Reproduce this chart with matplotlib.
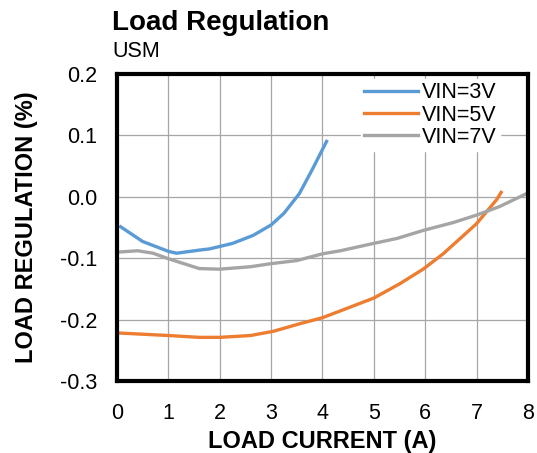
import matplotlib.pyplot as plt

plt.rcParams.update({
    "font.family": ["Liberation Sans", "DejaVu Sans"],
    "font.size": 16,
})

# data
x_3v = [0.07, 0.5, 1.0, 1.16, 1.6, 1.8, 2.25, 2.65, 3.0, 3.25, 3.55, 3.8, 4.08]
y_3v = [-0.049, -0.073, -0.089, -0.092, -0.087, -0.085, -0.076, -0.063, -0.046,
        -0.027, 0.005, 0.044, 0.09]

x_5v = [0.05, 1.0, 1.6, 2.0, 2.6, 3.05, 3.55, 4.0, 4.47, 5.0, 5.5, 5.96, 6.35,
        7.0, 7.39, 7.48]
y_5v = [-0.222, -0.226, -0.229, -0.229, -0.226, -0.219, -0.207, -0.197, -0.182,
        -0.165, -0.142, -0.118, -0.093, -0.044, -0.005, 0.007]

x_7v = [0.05, 0.4, 0.7, 1.0, 1.6, 2.0, 2.6, 3.0, 3.5, 4.0, 4.35, 5.0, 5.45,
        5.96, 6.55, 7.0, 7.45, 8.0]
y_7v = [-0.09, -0.088, -0.092, -0.101, -0.117, -0.118, -0.114, -0.109, -0.104,
        -0.093, -0.088, -0.076, -0.068, -0.055, -0.042, -0.03, -0.016, 0.006]

xticks = [0, 1, 2, 3, 4, 5, 6, 7, 8]
yticks = [-0.3, -0.2, -0.1, 0.0, 0.1, 0.2]
ytick_labels = ["-0.3", "-0.2", "-0.1", "0.0", "0.1", "0.2"]

fig = plt.figure(figsize=(5.37, 4.53), dpi=100)
ax = fig.add_axes([0.218, 0.159, 0.765, 0.678])

ax.plot(x_3v, y_3v, color="#5B9BD5", lw=2.4, label="VIN=3V")
ax.plot(x_5v, y_5v, color="#ED7D31", lw=2.4, label="VIN=5V")
ax.plot(x_7v, y_7v, color="#A5A5A5", lw=2.4, label="VIN=7V")

ax.set_xlim(0, 8)
ax.set_ylim(-0.3, 0.2)
ax.set_xticks(xticks)
ax.set_yticks(yticks)
ax.set_yticklabels(ytick_labels)
ax.tick_params(length=0, labelsize=15.5)
ax.tick_params(axis="x", pad=16)
ax.tick_params(axis="y", pad=14)
ax.grid(True, color="#a6a6a6", lw=0.9)
ax.set_axisbelow(True)
for s in ax.spines.values():
    s.set_linewidth(3)
    s.set_color("black")

ax.set_xlabel("LOAD CURRENT (A)", fontweight="bold", fontsize=17, labelpad=4)
ax.set_ylabel("LOAD REGULATION (%)", fontweight="bold", fontsize=17, labelpad=16)

leg = ax.legend(loc="upper right", bbox_to_anchor=(0.945, 1.0), frameon=True,
                fancybox=False, framealpha=1, edgecolor="white",
                handlelength=2.5, handletextpad=0.2, labelspacing=0.05,
                borderpad=0.15, borderaxespad=0.25, fontsize=15.5)

fig.text(112 / 537, 1 - 30 / 453, "Load Regulation", fontsize=20,
         fontweight="bold", ha="left", va="baseline")
fig.text(112 / 537, 1 - 57 / 453, "USM", fontsize=15.5, ha="left", va="baseline")

fig.savefig("out.png", dpi=100)
